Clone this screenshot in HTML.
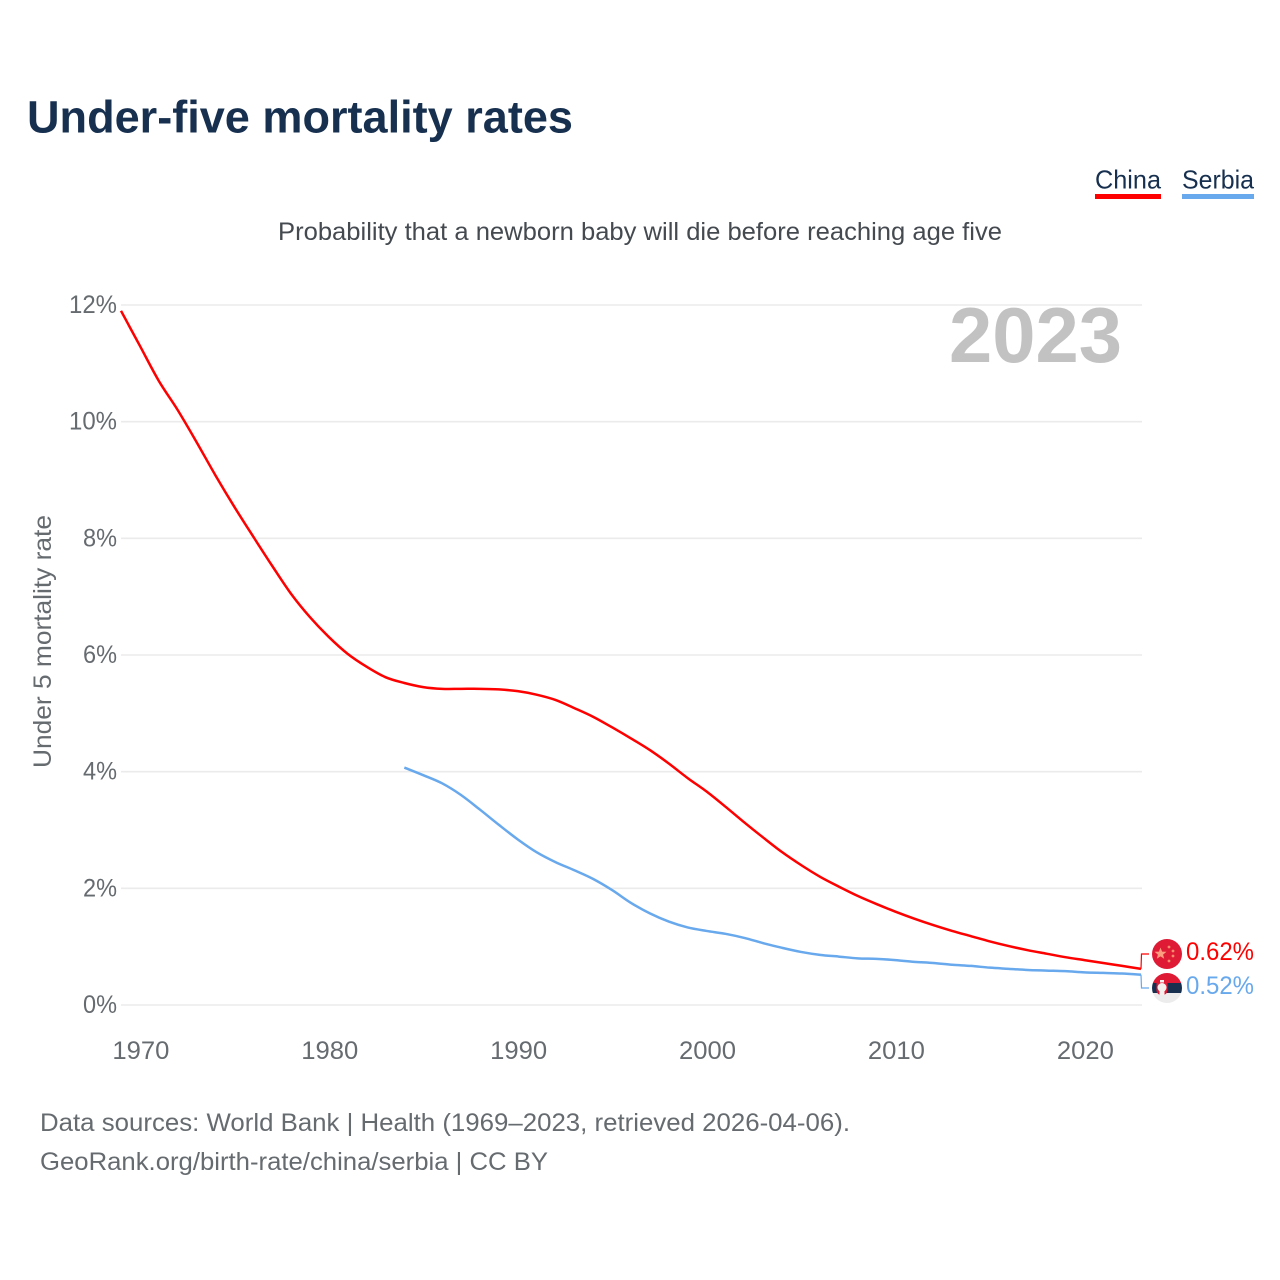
<!DOCTYPE html>
<html lang="en">
<head>
<meta charset="utf-8">
<title>Under-five mortality rates</title>
<style>
html,body{margin:0;padding:0;background:#fff;width:1280px;height:1280px;overflow:hidden}
svg{display:block}
text{font-family:"Liberation Sans",sans-serif}
</style>
</head>
<body>
<svg id="chart" width="1280" height="1280" viewBox="0 0 1280 1280" xmlns="http://www.w3.org/2000/svg">
  <text x="27" y="132.5" font-size="45" font-weight="700" fill="#17304f" textLength="546" lengthAdjust="spacingAndGlyphs">Under-five mortality rates</text>

  <g>
    <g>
      <text x="1095" y="188.5" font-size="26" fill="#17304f" textLength="66" lengthAdjust="spacingAndGlyphs">China</text>
      <rect x="1095" y="194" width="66" height="5" fill="#ff0000"/>
    </g>
    <g>
      <text x="1182" y="188.5" font-size="26" fill="#17304f" textLength="72" lengthAdjust="spacingAndGlyphs">Serbia</text>
      <rect x="1182" y="194" width="72" height="5" fill="#68a8ec"/>
    </g>
  </g>

  <text x="278" y="240" font-size="25" fill="#444a50" textLength="724" lengthAdjust="spacingAndGlyphs">Probability that a newborn baby will die before reaching age five</text>

  <g id="grid"></g>
  <g id="yTicks"></g>
  <g id="xTicks"></g>

  <text x="949" y="362" font-size="78" font-weight="700" fill="#c2c2c2" textLength="173" lengthAdjust="spacingAndGlyphs">2023</text>

  <text transform="translate(51,768) rotate(-90)" font-size="25" fill="#666b70" textLength="253" lengthAdjust="spacingAndGlyphs">Under 5 mortality rate</text>

  <g id="series"></g>
  <g id="ends"></g>

  <g>
    <circle cx="1167" cy="954" r="15" fill="#de1a35"/>
    <polygon points="1160.5,947.5 1162.1,951.6 1166.5,951.8 1163.1,954.6 1164.2,958.8 1160.5,956.4 1156.8,958.8 1157.9,954.6 1154.5,951.8 1158.9,951.6" fill="#fb9d7e"/>
    <circle cx="1169" cy="947" r="1.4" fill="#f58a6d"/>
    <circle cx="1173" cy="951" r="1.4" fill="#f58a6d"/>
    <circle cx="1173" cy="956" r="1.4" fill="#f58a6d"/>
    <circle cx="1169" cy="961" r="1.4" fill="#f58a6d"/>
  </g>
  <g>
    <clipPath id="serbiaClip"><circle cx="1167" cy="988" r="15"/></clipPath>
    <g clip-path="url(#serbiaClip)">
      <rect x="1152" y="973" width="30" height="10" fill="#de1a35"/>
      <rect x="1152" y="983" width="30" height="10" fill="#17304f"/>
      <rect x="1152" y="993" width="30" height="10" fill="#ececec"/>
    </g>
    <rect x="1156.5" y="979" width="11" height="16" rx="4.5" fill="#de1a35"/>
    <circle cx="1162" cy="987.5" r="4.5" fill="#f4f0ee"/>
    <rect x="1159.5" y="991" width="5" height="4" fill="#f4f0ee"/>
    <rect x="1160" y="980" width="4" height="2.5" fill="#f4f0ee"/>
  </g>

  <text x="40" y="1131" font-size="25" fill="#666b70" textLength="810" lengthAdjust="spacingAndGlyphs">Data sources: World Bank | Health (1969–2023, retrieved 2026-04-06).</text>
  <text x="40" y="1170" font-size="25" fill="#666b70" textLength="508" lengthAdjust="spacingAndGlyphs">GeoRank.org/birth-rate/china/serbia | CC BY</text>
</svg>

<script>
const chinaStartYear = 1969;
const chinaValues = [11.9,11.3,10.7,10.2,9.65,9.08,8.54,8.03,7.53,7.05,6.65,6.31,6.02,5.8,5.62,5.52,5.45,5.42,5.42,5.42,5.41,5.38,5.32,5.23,5.09,4.94,4.76,4.57,4.37,4.14,3.89,3.66,3.4,3.13,2.87,2.62,2.4,2.2,2.03,1.87,1.73,1.6,1.48,1.37,1.27,1.18,1.09,1.01,0.94,0.88,0.82,0.77,0.72,0.67,0.62];
const serbiaStartYear = 1984;
const serbiaValues = [4.07,3.94,3.8,3.6,3.35,3.09,2.84,2.62,2.45,2.31,2.16,1.97,1.75,1.57,1.43,1.33,1.27,1.22,1.15,1.06,0.98,0.91,0.86,0.83,0.8,0.79,0.77,0.74,0.72,0.69,0.67,0.64,0.62,0.6,0.59,0.58,0.56,0.55,0.54,0.52];
const yTickValues = [0,2,4,6,8,10,12];
const xTickYears = [1970,1980,1990,2000,2010,2020];
const endLabels = ["0.62%","0.52%"];

const NS = "http://www.w3.org/2000/svg";
function xScale(year){ return 121 + (year - 1969) * (1020 / 54); }
function yScale(v){ return 1005 - v * (700 / 12); }
function make(tag, attrs, parent){
  const el = document.createElementNS(NS, tag);
  for (const k in attrs) el.setAttribute(k, attrs[k]);
  parent.appendChild(el);
  return el;
}

const gridG = document.getElementById("grid");
const yG = document.getElementById("yTicks");
yTickValues.forEach(function(v){
  const line = make("line", {x1:121, x2:1142, y1:yScale(v), y2:yScale(v), stroke:"#ebebeb", "stroke-width":1.6}, gridG);
  
  
  const label = String(v) + "%";
  const t = make("text", {x:117, y:yScale(v) + 8, "font-size":25, fill:"#666b70", "text-anchor":"end", textLength:label.length === 3 ? 48 : 34, lengthAdjust:"spacingAndGlyphs"}, yG);
  t.textContent = label;
  
  
});

const xG = document.getElementById("xTicks");
xTickYears.forEach(function(yr){
  const t = make("text", {x:xScale(yr) + 1, y:1059, "font-size":25, fill:"#666b70", "text-anchor":"middle", textLength:57, lengthAdjust:"spacingAndGlyphs"}, xG);
  t.textContent = String(yr);
  
  
});

function smoothPath(start, vals){
  const pts = vals.map(function(v, i){ return [xScale(start + i), yScale(v)]; });
  let d = "M" + pts[0][0].toFixed(2) + "," + pts[0][1].toFixed(2);
  for (let i = 0; i < pts.length - 1; i++) {
    const p0 = pts[Math.max(i - 1, 0)];
    const p1 = pts[i];
    const p2 = pts[i + 1];
    const p3 = pts[Math.min(i + 2, pts.length - 1)];
    const c1x = p1[0] + (p2[0] - p0[0]) / 6;
    const c1y = p1[1] + (p2[1] - p0[1]) / 6;
    const c2x = p2[0] - (p3[0] - p1[0]) / 6;
    const c2y = p2[1] - (p3[1] - p1[1]) / 6;
    d += "C" + c1x.toFixed(2) + "," + c1y.toFixed(2) + " " + c2x.toFixed(2) + "," + c2y.toFixed(2) + " " + p2[0].toFixed(2) + "," + p2[1].toFixed(2);
  }
  return d;
}
const seriesG = document.getElementById("series");
const chinaLine = make("path", {d:smoothPath(chinaStartYear, chinaValues), fill:"none", stroke:"#ff0000", "stroke-width":2.5, "stroke-linejoin":"round"}, seriesG);


const serbiaLine = make("path", {d:smoothPath(serbiaStartYear, serbiaValues), fill:"none", stroke:"#68a8ec", "stroke-width":2.5, "stroke-linejoin":"round"}, seriesG);



const endsG = document.getElementById("ends");
const chinaEndY = yScale(chinaValues[chinaValues.length - 1]);
const serbiaEndY = yScale(serbiaValues[serbiaValues.length - 1]);
const chinaConnector = make("polyline", {points:"1141," + chinaEndY + " 1141.5,954 1149,954", fill:"none", stroke:"#ff0000", "stroke-width":1.2}, endsG);


const serbiaConnector = make("polyline", {points:"1141," + serbiaEndY + " 1141.5,988 1149,988", fill:"none", stroke:"#68a8ec", "stroke-width":1.2}, endsG);


const chinaValueLabel = make("text", {x:1186, y:960, "font-size":25, fill:"#ff0000", textLength:68, lengthAdjust:"spacingAndGlyphs"}, endsG);
chinaValueLabel.textContent = endLabels[0];


const serbiaValueLabel = make("text", {x:1186, y:994, "font-size":25, fill:"#68a8ec", textLength:68, lengthAdjust:"spacingAndGlyphs"}, endsG);
serbiaValueLabel.textContent = endLabels[1];


</script>
</body>
</html>
